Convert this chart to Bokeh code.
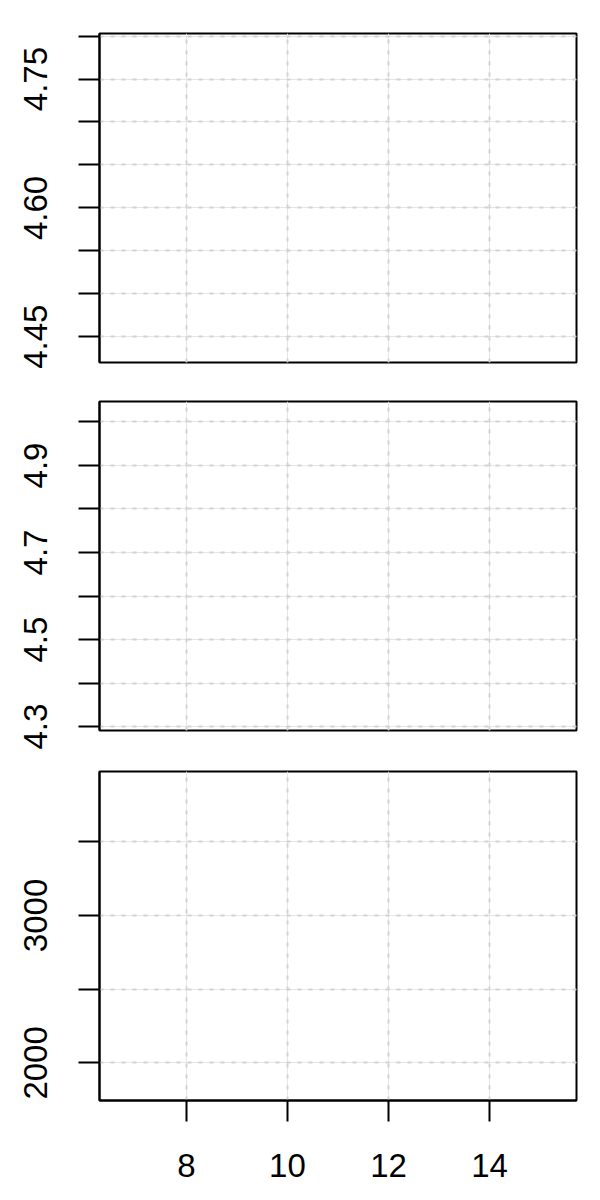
import math
from bokeh.plotting import figure
from bokeh.models import Range1d, LinearAxis, Grid, FixedTicker, PrintfTickFormatter
from bokeh.layouts import column
from bokeh.embed import file_html
from bokeh.resources import INLINE

# x axis (shared)
x_limits = [6.28, 15.72]
x_ticks = [8, 10, 12, 14]

# panel 1
y1_limits = [4.420, 4.803]
y1_labeled = [4.45, 4.60, 4.75]
y1_unlabeled = [4.50, 4.55, 4.65, 4.70, 4.80]

# panel 2
y2_limits = [4.291, 5.047]
y2_labeled = [4.3, 4.5, 4.7, 4.9]
y2_unlabeled = [4.4, 4.6, 4.8, 5.0]

# panel 3
y3_limits = [1745, 3976]
y3_labeled = [2000, 3000]
y3_unlabeled = [2500, 3500]

FONT = "Liberation Sans"
GRID_COLOR = "#D3D3D3"
DASH = "4 7"


def style_axis(ax, fmt):
    ax.formatter = PrintfTickFormatter(format=fmt)
    ax.axis_line_color = "black"
    ax.axis_line_width = 2
    ax.major_tick_out = 21
    ax.major_tick_in = 0
    ax.minor_tick_out = 21
    ax.minor_tick_in = 0
    ax.major_tick_line_color = "black"
    ax.major_tick_line_width = 2
    ax.minor_tick_line_color = "black"
    ax.minor_tick_line_width = 2
    ax.major_label_text_font = FONT
    ax.major_label_text_font_size = "33px"
    ax.major_label_text_color = "black"


def make_panel(height, top, bottom, ylim, ylab, yunlab, fmt, show_x):
    p = figure(width=600, height=height, output_backend="svg", toolbar_location=None,
               x_range=Range1d(*x_limits), y_range=Range1d(*ylim),
               x_axis_location=None, y_axis_location=None,
               min_border_left=99, min_border_right=24,
               min_border_top=top, min_border_bottom=bottom)
    p.background_fill_color = "white"
    p.border_fill_color = "white"
    p.outline_line_color = "black"
    p.outline_line_width = 2
    p.outline_line_alpha = 1.0

    yt = FixedTicker(ticks=ylab, minor_ticks=yunlab)
    yax = LinearAxis(ticker=yt)
    style_axis(yax, fmt)
    yax.major_label_orientation = "vertical"
    yax.major_label_standoff = 31
    p.add_layout(yax, "left")

    xt = FixedTicker(ticks=x_ticks)
    if show_x:
        xax = LinearAxis(ticker=xt)
        style_axis(xax, "%d")
        xax.major_label_standoff = 32
        p.add_layout(xax, "below")

    xg = Grid(dimension=0, ticker=xt, grid_line_color=GRID_COLOR,
              grid_line_dash=DASH, grid_line_width=2)
    yg = Grid(dimension=1, ticker=yt, grid_line_color=GRID_COLOR,
              grid_line_dash=DASH, grid_line_width=2,
              minor_grid_line_color=GRID_COLOR, minor_grid_line_dash=DASH,
              minor_grid_line_width=2)
    p.add_layout(xg)
    p.add_layout(yg)
    return p


p1 = make_panel(382, 33, 20, y1_limits, y1_labeled, y1_unlabeled, "%.2f", False)
p2 = make_panel(368, 19, 20, y2_limits, y2_labeled, y2_unlabeled, "%.1f", False)
p3 = make_panel(450, 21, 100, y3_limits, y3_labeled, y3_unlabeled, "%d", True)

layout = column(p1, p2, p3, spacing=0)
open("out.html", "w").write(file_html(layout, INLINE))
